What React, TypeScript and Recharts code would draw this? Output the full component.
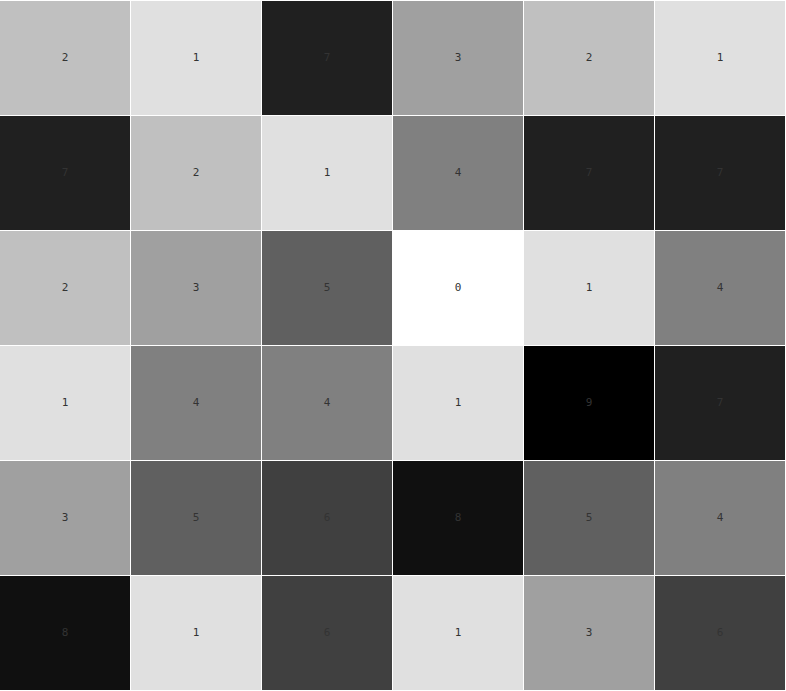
import { ScatterChart, Scatter, XAxis, YAxis } from 'recharts';

const columns = [0, 1, 2, 3, 4, 5];
const rows = [0, 1, 2, 3, 4, 5];

// heat values, one array per row (top to bottom)
const row0 = [2, 1, 7, 3, 2, 1];
const row1 = [7, 2, 1, 4, 7, 7];
const row2 = [2, 3, 5, 0, 1, 4];
const row3 = [1, 4, 4, 1, 9, 7];
const row4 = [3, 5, 6, 8, 5, 4];
const row5 = [8, 1, 6, 1, 3, 6];
const grid = [row0, row1, row2, row3, row4, row5];

const shades = ['#ffffff', '#e0e0e0', '#c0c0c0', '#a0a0a0', '#808080', '#606060', '#404040', '#202020', '#101010', '#000000'];

const data = rows.flatMap((r) =>
  columns.map((c) => ({ x: c + 0.5, y: r + 0.5, value: grid[r][c] }))
);

const CELL_W = 131;
const CELL_H = 115;

const HeatCell = (props: any) => {
  const { cx, cy, payload } = props;
  return (
    <g>
      <rect
        x={cx - CELL_W / 2}
        y={cy - CELL_H / 2 + 1}
        width={CELL_W - 1}
        height={CELL_H - 1}
        fill={shades[payload.value]}
      />
      <text
        x={cx - 0.5}
        y={cy}
        textAnchor='middle'
        dominantBaseline='central'
        fontFamily='DejaVu Sans Mono, monospace'
        fontSize={11}
        fill='#333'
      >
        {payload.value}
      </text>
    </g>
  );
};

const App = () => {
  return (
    <div style={{ position: 'fixed', top: 0, left: 0, background: '#fff' }}>
      <ScatterChart width={786} height={691} margin={{ top: 0, right: 0, bottom: 1, left: 0 }}>
        <XAxis type='number' dataKey='x' domain={[0, 6]} hide />
        <YAxis type='number' dataKey='y' domain={[0, 6]} reversed hide />
        <Scatter data={data} shape={HeatCell} isAnimationActive={false} />
      </ScatterChart>
    </div>
  );
};

export default App;
